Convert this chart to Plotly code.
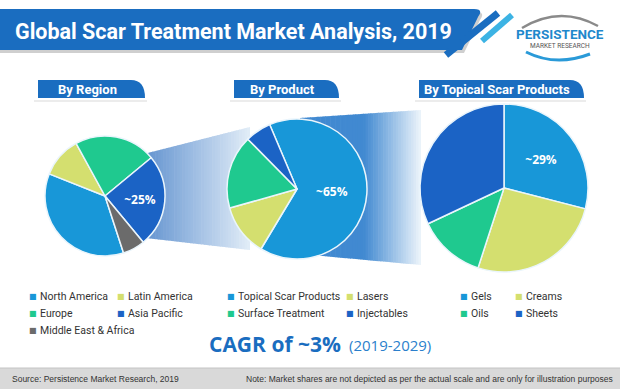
import plotly.graph_objects as go

W, H = 620, 389

# ---------------- data ----------------
region_labels = ["North America", "Latin America", "Europe", "Asia Pacific", "Middle East & Africa"]
region_values = [36, 11, 22, 25, 6]
product_labels = ["Topical Scar Products", "Lasers", "Surface Treatment", "Injectables"]
product_values = [65, 12, 17, 6]
topical_labels = ["Gels", "Creams", "Oils", "Sheets"]
topical_values = [29, 26, 13, 32]

region_callout = "Asia Pacific"
product_callout = "Topical Scar Products"
topical_callout = "Gels"

title_text = "Global Scar Treatment Market Analysis, 2019"
panel_titles = ["By Region", "By Product", "By Topical Scar Products"]
cagr_main = "CAGR of ~3%"
cagr_period = "(2019-2029)"
source_text = "Source: Persistence Market Research, 2019"
note_text = "Note: Market shares are not depicted as per the actual scale and are only for illustration purposes"

# ---------------- styles ----------------
LIGHT_BLUE = "#1897d8"
YELLOW = "#d4df6f"
GREEN = "#1fc98f"
DARK_BLUE = "#1b63c5"
GRAY = "#6b6b6b"
BAND = "#1a6dc0"
region_colors = [LIGHT_BLUE, YELLOW, GREEN, DARK_BLUE, GRAY]
product_colors = [LIGHT_BLUE, YELLOW, GREEN, DARK_BLUE]
topical_colors = [LIGHT_BLUE, YELLOW, GREEN, DARK_BLUE]

NARROW = "Roboto, Liberation Sans, sans-serif"
BODY = "Open Sans, Lato, sans-serif"


def px(x):
    return x / W


def py(y):
    return 1 - y / H


def P(x, y):
    return f"{px(x):.5f},{py(y):.5f}"


def hex2rgb(h):
    h = h.lstrip("#")
    return [int(h[i:i + 2], 16) for i in (0, 2, 4)]


def mix(c0, c1, t):
    a, b = hex2rgb(c0), hex2rgb(c1)
    return "rgb(%d,%d,%d)" % tuple(round(a[i] + (b[i] - a[i]) * t) for i in range(3))


shapes = []
annotations = []


def funnel(x0, x1, t0, t1, b0, b1, c0, c1, g0, n=48):
    # gradient band: solid c0 until g0, then fades to c1 at x1
    for i in range(n):
        xa = x0 + (x1 - x0) * i / n
        xb = x0 + (x1 - x0) * (i + 1) / n
        xc = min(xb + 0.6, x1)
        ta = t0 + (t1 - t0) * (xa - x0) / (x1 - x0)
        tb = t0 + (t1 - t0) * (xc - x0) / (x1 - x0)
        ba = b0 + (b1 - b0) * (xa - x0) / (x1 - x0)
        bb = b0 + (b1 - b0) * (xc - x0) / (x1 - x0)
        xm = (xa + xb) / 2
        t = 0 if xm < g0 else (xm - g0) / (x1 - g0)
        shapes.append(dict(type="path", xref="paper", yref="paper", layer="below",
                           path=f"M {P(xa, ta)} L {P(xc, tb)} L {P(xc, bb)} L {P(xa, ba)} Z",
                           fillcolor=mix(c0, c1, t), line=dict(width=0)))


# funnels (drawn behind the pies)
funnel(120, 250, 160, 127, 235, 250, "#6494d0", "#e2edf8", 146)
funnel(300, 421, 118, 110, 254, 265, "#4189d1", "#eef5fb", 364)

# ---------------- title band ----------------
shapes.append(dict(type="path", xref="paper", yref="paper",
                   path=f"M {P(0, 12)} L {P(476, 12)} Q {P(486, 12)} {P(480, 20)} L {P(464, 53)} L {P(0, 53)} Z",
                   fillcolor="#cfcfcf", line=dict(width=0)))
shapes.append(dict(type="path", xref="paper", yref="paper",
                   path=f"M {P(0, 9)} L {P(474, 9)} Q {P(484, 9)} {P(478, 17)} L {P(462, 50)} L {P(0, 50)} Z",
                   fillcolor=BAND, line=dict(width=0)))
shapes.append(dict(type="line", xref="paper", yref="paper",
                   x0=px(446), y0=py(55), x1=px(498), y1=py(13),
                   line=dict(color=BAND, width=7)))
shapes.append(dict(type="line", xref="paper", yref="paper",
                   x0=px(482), y0=py(41), x1=px(512), y1=py(15),
                   line=dict(color="#3cb3e4", width=6)))
annotations.append(dict(text=f"<b>{title_text}</b>", x=px(13), y=py(31), xref="paper", yref="paper",
                        xanchor="left", yanchor="middle", showarrow=False,
                        font=dict(family=NARROW, size=21.5, color="white")))

# logo
shapes.append(dict(type="path", xref="paper", yref="paper",
                   path=f"M {P(522, 28)} Q {P(560, 5)} {P(598, 26)}",
                   line=dict(color="#8a8a8a", width=2.5)))
shapes.append(dict(type="path", xref="paper", yref="paper",
                   path=f"M {P(526, 52)} Q {P(556, 67)} {P(590, 54)}",
                   line=dict(color="#2a9ad8", width=3)))
annotations.append(dict(text="<b>PERSISTENCE</b>", x=px(560), y=py(34), xref="paper", yref="paper",
                        xanchor="center", yanchor="middle", showarrow=False,
                        font=dict(family=NARROW, size=13.5, color="#1f88cc")))
annotations.append(dict(text="MARKET RESEARCH", x=px(560), y=py(46), xref="paper", yref="paper",
                        xanchor="center", yanchor="middle", showarrow=False,
                        font=dict(family=NARROW, size=6.5, color="#555555")))

# ---------------- panel tabs ----------------
tabs = [(38, 145), (234, 339), (419, 584)]
for (x0, x1), ttl in zip(tabs, panel_titles):
    y0, y1 = 80, 98
    shapes.append(dict(type="line", xref="paper", yref="paper",
                       x0=px(x0 - 4), y0=py(y1 + 3), x1=px(x1 + 2), y1=py(y1 + 3),
                       line=dict(color="#ececec", width=2)))
    shapes.append(dict(type="path", xref="paper", yref="paper",
                       path=f"M {P(x0, y1)} L {P(x0, y0)} L {P(x1 - 14, y0)} Q {P(x1, y0)} {P(x1, y1)} Z",
                       fillcolor=BAND, line=dict(width=0)))
    annotations.append(dict(text=f"<b>{ttl}</b>", x=px((x0 + x1 - 8) / 2), y=py(89), xref="paper", yref="paper",
                            xanchor="center", yanchor="middle", showarrow=False,
                            font=dict(family=NARROW, size=13, color="white")))

# ---------------- pies ----------------
def dom(cx, cy, r):
    return dict(x=[px(cx - r), px(cx + r)], y=[py(cy + r), py(cy - r)])


def pie(labels, values, colors, callout, cx, cy, r, rotation):
    return go.Pie(labels=labels, values=values, sort=False, direction="clockwise", rotation=rotation,
                  domain=dom(cx, cy, r),
                  marker=dict(colors=colors, line=dict(color="#eaf5fc", width=1.5)),
                  text=[f"<b>~{v}%</b>" if l == callout else "" for l, v in zip(labels, values)],
                  textinfo="text", textposition="inside", insidetextorientation="horizontal",
                  textfont=dict(family=BODY, size=12, color="white"),
                  hoverinfo="skip", showlegend=False)


fig = go.Figure()
fig.add_trace(pie(region_labels, region_values, region_colors, region_callout, 105, 196, 60, 162))
fig.add_trace(pie(product_labels, product_values, product_colors, product_callout, 297, 189, 70, -23))
fig.add_trace(pie(topical_labels, topical_values, topical_colors, topical_callout, 504, 188, 84, 0))

# ---------------- legends (text) ----------------
def legend(labels, colors, cols_x, rows_y, ncol):
    for i, (lab, col) in enumerate(zip(labels, colors)):
        r, c = divmod(i, ncol)
        x, y = cols_x[c], rows_y[r]
        annotations.append(dict(text="■", x=px(x), y=py(y), xref="paper", yref="paper",
                                xanchor="center", yanchor="middle", showarrow=False,
                                font=dict(family="DejaVu Sans", size=8, color=col)))
        annotations.append(dict(text=lab, x=px(x + 5), y=py(y), xref="paper", yref="paper",
                                xanchor="left", yanchor="middle", showarrow=False,
                                font=dict(family=NARROW, size=10.5, color="#333333")))


rows = [296, 313, 330]
legend(region_labels, region_colors, [33, 121], rows, 2)
legend(product_labels, product_colors, [231, 350], rows, 2)
legend(topical_labels, topical_colors, [464, 519], rows, 2)

# ---------------- CAGR ----------------
annotations.append(dict(text=f"<b>{cagr_main}</b>", x=px(343), y=py(344), xref="paper", yref="paper",
                        xanchor="right", yanchor="middle", showarrow=False,
                        font=dict(family=BODY, size=21, color="#1a6dc0")))
annotations.append(dict(text=cagr_period, x=px(347), y=py(345), xref="paper", yref="paper",
                        xanchor="left", yanchor="middle", showarrow=False,
                        font=dict(family=BODY, size=15, color="#2b7fcc")))

# ---------------- footer ----------------
shapes.append(dict(type="rect", xref="paper", yref="paper", x0=0, x1=1, y0=0, y1=py(368),
                   fillcolor="#d9d9d9", line=dict(width=0)))
shapes.append(dict(type="line", xref="paper", yref="paper", x0=0, x1=1, y0=py(368), y1=py(368),
                   line=dict(color="#c4c4c4", width=1)))
annotations.append(dict(text=source_text, x=px(10), y=py(379), xref="paper", yref="paper",
                        xanchor="left", yanchor="middle", showarrow=False,
                        font=dict(family="Liberation Sans, sans-serif", size=8.5, color="#333333")))
annotations.append(dict(text=note_text, x=px(615), y=py(379), xref="paper", yref="paper",
                        xanchor="right", yanchor="middle", showarrow=False,
                        font=dict(family="Liberation Sans, sans-serif", size=8.5, color="#333333")))

fig.update_layout(width=W, height=H, margin=dict(l=0, r=0, t=0, b=0),
                  paper_bgcolor="white", plot_bgcolor="white",
                  shapes=shapes, annotations=annotations, showlegend=False)

fig.write_html("out.html", config={"displayModeBar": False},
               post_script="document.body.style.margin='0';document.body.style.overflow='hidden';")
